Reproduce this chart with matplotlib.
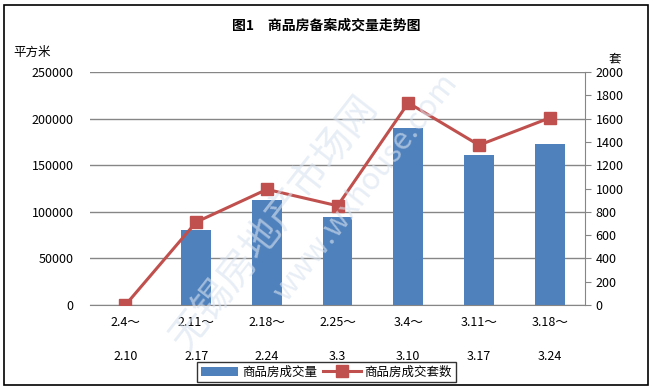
import matplotlib.pyplot as plt
import numpy as np
from matplotlib.patches import Rectangle

plt.rcParams['font.family'] = ['Noto Sans CJK SC', 'DejaVu Sans']

weeks_start = ['2.4～', '2.11～', '2.18～', '2.25～', '3.4～', '3.11～', '3.18～']
weeks_end = ['2.10', '2.17', '2.24', '3.3', '3.10', '3.17', '3.24']
area = [0, 80500, 112500, 94500, 189500, 161000, 172500]
units = [0, 712, 993, 852, 1736, 1373, 1607]

bar_color = '#4f81bd'
line_color = '#c0504d'

fig = plt.figure(figsize=(6.53, 3.90), dpi=100)
fig.patches.append(Rectangle((0.006, 0.013), 0.987, 0.975, transform=fig.transFigure,
                             fill=False, edgecolor='black', linewidth=1.2))

ax = fig.add_axes([0.138, 0.218, 0.758, 0.597])
x = np.arange(len(area))
ax.bar(x, area, width=0.42, color=bar_color, zorder=2, label='商品房成交量')
ax.set_xlim(-0.5, len(area) - 0.5)
ax.set_ylim(0, 250000)
ax.set_yticks(np.arange(0, 250001, 50000))
ax.yaxis.grid(True, color='#868686', linewidth=1)
ax.set_axisbelow(True)
for s in ['top', 'left', 'right']:
    ax.spines[s].set_visible(False)
ax.spines['bottom'].set_color('#868686')
ax.tick_params(axis='y', length=0, labelsize=9, pad=12)
ax.tick_params(axis='x', length=0, labelsize=9, pad=8)
ax.set_xticks(x)
ax.set_xticklabels([a + '\n\n' + b for a, b in zip(weeks_start, weeks_end)], linespacing=1.4)

ax2 = ax.twinx()
ax2.plot(x, units, color=line_color, linewidth=2.2, marker='s', markersize=8,
         zorder=3, label='商品房成交套数')
ax2.set_ylim(0, 2000)
ax2.set_yticks(np.arange(0, 2001, 200))
for s in ['top', 'left', 'bottom']:
    ax2.spines[s].set_visible(False)
ax2.spines['right'].set_color('#868686')
ax2.tick_params(axis='y', direction='out', length=4, color='#868686', labelsize=9)

fig.text(0.5, 0.935, '图1　商品房备案成交量走势图', ha='center', va='center',
         fontsize=10, fontweight='bold')
fig.text(0.02, 0.865, '平方米', ha='left', va='center', fontsize=9)
fig.text(0.932, 0.849, '套', ha='left', va='center', fontsize=9)

# watermark
fig.text(0.42, 0.43, '无锡房地产市场网', rotation=52, fontsize=28, color='#d9e3f0',
         alpha=0.6, ha='center', va='center', zorder=5)
fig.text(0.56, 0.52, 'www.wxhouse.com', rotation=52, fontsize=22, color='#d9e3f0',
         alpha=0.6, ha='center', va='center', zorder=5)

h1, l1 = ax.get_legend_handles_labels()
h2, l2 = ax2.get_legend_handles_labels()
leg = fig.legend(h1 + h2, l1 + l2, loc='center', bbox_to_anchor=(0.5, 0.046), ncol=2,
                 fontsize=9, frameon=True, fancybox=False, edgecolor='black',
                 handlelength=3, handletextpad=0.3, columnspacing=0.5,
                 borderpad=0.3)
leg.get_frame().set_linewidth(1)

fig.savefig('out.png', dpi=100)
